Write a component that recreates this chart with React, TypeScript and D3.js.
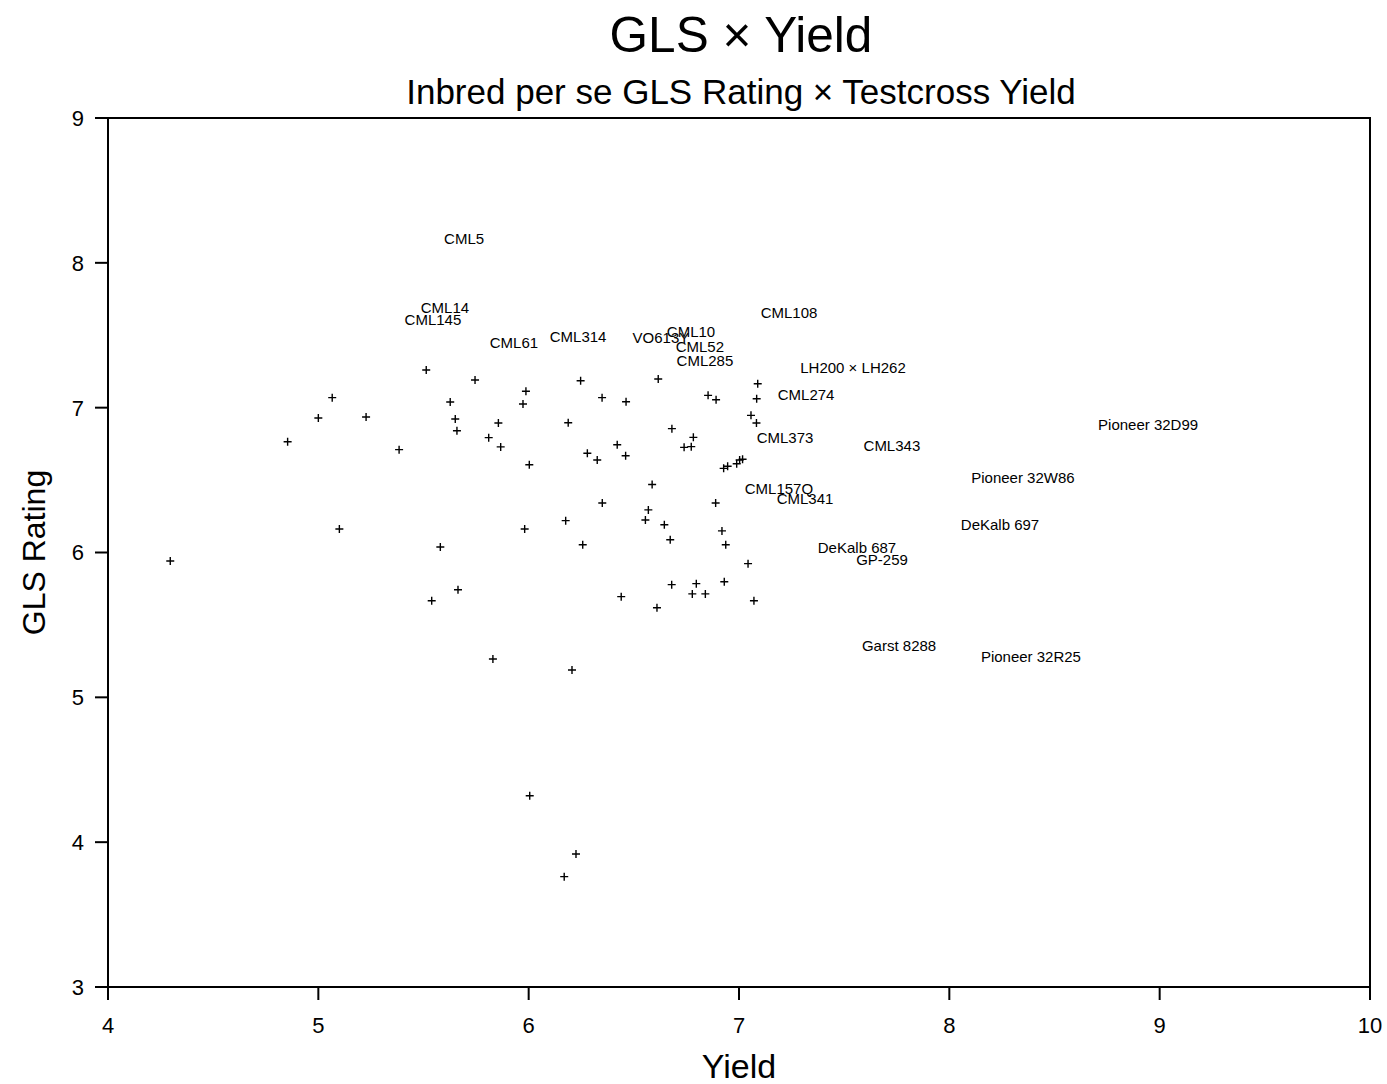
import React from "react";
import * as d3 from "d3";

// Unlabelled entries: testcross yield and inbred per se GLS rating
const pointYield = [
  4.296, 4.854, 5.0, 5.066, 5.1, 5.227, 5.384, 5.513, 5.539, 5.58,
  5.627, 5.651, 5.664, 5.659, 5.745, 5.81, 5.83, 5.856, 5.867, 5.973,
  5.987, 5.981, 6.003, 6.005, 6.169, 6.176, 6.188, 6.206, 6.225, 6.247,
  6.257, 6.279, 6.326, 6.35, 6.349, 6.421, 6.44, 6.461, 6.463, 6.555,
  6.569, 6.587, 6.61, 6.616, 6.645, 6.68, 6.673, 6.681, 6.739, 6.773,
  6.778, 6.783, 6.797, 6.84, 6.853, 6.889, 6.891, 6.919, 6.927, 6.93,
  6.937, 6.946, 6.989, 7.003, 7.017, 7.043, 7.057, 7.071, 7.083, 7.084,
  7.089,
];
const pointGls = [
  5.941, 6.765, 6.929, 7.069, 6.162, 6.936, 6.71, 7.26, 5.667, 6.038,
  7.039, 6.922, 5.743, 6.841, 7.191, 6.793, 5.265, 6.894, 6.729, 7.025,
  7.113, 6.162, 6.606, 4.321, 3.762, 6.22, 6.896, 5.189, 3.918, 7.186,
  6.054, 6.685, 6.639, 6.342, 7.069, 6.744, 5.695, 6.668, 7.041, 6.224,
  6.294, 6.47, 5.619, 7.198, 6.192, 5.778, 6.088, 6.855, 6.726, 6.731,
  5.714, 6.795, 5.785, 5.714, 7.085, 6.342, 7.055, 6.149, 6.581, 5.798,
  6.054, 6.595, 6.613, 6.639, 6.644, 5.923, 6.947, 5.667, 6.894, 7.062,
  7.165,
];

// Named lines and checks, drawn as text at their position
const labelNames = [
  "CML5", "CML14", "CML145", "CML61", "CML314", "VO613Y", "CML10", "CML52",
  "CML285", "CML108", "LH200 × LH262", "CML274", "Pioneer 32D99", "CML373",
  "CML343", "Pioneer 32W86", "CML157Q", "CML341", "DeKalb 697", "DeKalb 687",
  "GP-259", "Garst 8288", "Pioneer 32R25",
];
const labelYield = [
  5.693, 5.602, 5.545, 5.93, 6.235, 6.629, 6.772, 6.814,
  6.838, 7.238, 7.542, 7.319, 8.945, 7.219,
  7.727, 8.35, 7.19, 7.314, 8.241, 7.561,
  7.68, 7.761, 8.388,
];
const labelGls = [
  8.165, 7.688, 7.605, 7.447, 7.488, 7.481, 7.523, 7.419,
  7.322, 7.654, 7.274, 7.088, 6.88, 6.791,
  6.735, 6.514, 6.439, 6.369, 6.19, 6.031,
  5.948, 5.354, 5.279,
];

const xTicks = [4, 5, 6, 7, 8, 9, 10];
const yTicks = [3, 4, 5, 6, 7, 8, 9];

const W = 1387;
const H = 1084;
const M = { left: 108, right: 1370, top: 118, bottom: 987 };
const FONT = "Liberation Sans, Arial, Helvetica, sans-serif";

export default function App() {
  const x = d3.scaleLinear().domain([4, 10]).range([M.left, M.right]);
  const y = d3.scaleLinear().domain([3, 9]).range([M.bottom, M.top]);
  const tick = 13;
  const arm = 4;

  return (
    <svg
      width={W}
      height={H}
      style={{ position: "absolute", left: 0, top: 0, background: "#fff" }}
      fontFamily={FONT}
    >
      <rect x={0} y={0} width={W} height={H} fill="#fff" />
      <text x={741} y={52} fontSize={49.5} textAnchor="middle" fill="#000">
        GLS × Yield
      </text>
      <text x={741} y={104} fontSize={35} textAnchor="middle" fill="#000">
        Inbred per se GLS Rating × Testcross Yield
      </text>

      {/* frame */}
      <rect
        x={M.left}
        y={M.top}
        width={M.right - M.left}
        height={M.bottom - M.top}
        fill="none"
        stroke="#000"
        strokeWidth={2}
      />

      {/* x axis */}
      {xTicks.map((t) => (
        <g key={"x" + t}>
          <line x1={x(t)} x2={x(t)} y1={M.bottom} y2={M.bottom + tick} stroke="#000" strokeWidth={2} />
          <text x={x(t)} y={1033} fontSize={22} textAnchor="middle" fill="#000">
            {t}
          </text>
        </g>
      ))}
      <text x={739} y={1078} fontSize={34} textAnchor="middle" fill="#000">
        Yield
      </text>

      {/* y axis */}
      {yTicks.map((t) => (
        <g key={"y" + t}>
          <line x1={M.left - tick} x2={M.left} y1={y(t)} y2={y(t)} stroke="#000" strokeWidth={2} />
          <text x={84} y={y(t)} dy="0.36em" fontSize={22} textAnchor="end" fill="#000">
            {t}
          </text>
        </g>
      ))}
      <text
        transform={`translate(45, ${y(6)}) rotate(-90)`}
        fontSize={32}
        textAnchor="middle"
        fill="#000"
      >
        GLS Rating
      </text>

      {/* unlabelled points */}
      {pointYield.map((v, i) => {
        const cx = x(v);
        const cy = y(pointGls[i]);
        return (
          <path
            key={"p" + i}
            d={`M${cx - arm},${cy}H${cx + arm}M${cx},${cy - arm}V${cy + arm}`}
            stroke="#000"
            strokeWidth={1.4}
            fill="none"
          />
        );
      })}

      {/* named entries */}
      {labelNames.map((name, i) => (
        <text
          key={"l" + i}
          x={x(labelYield[i])}
          y={y(labelGls[i])}
          dy="0.36em"
          fontSize={15}
          textAnchor="middle"
          fill="#000"
        >
          {name}
        </text>
      ))}
    </svg>
  );
}
